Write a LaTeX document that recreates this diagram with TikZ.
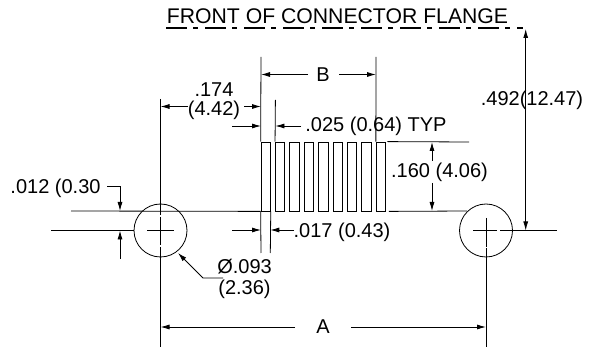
\documentclass[tikz,border=0pt]{standalone}
\usepackage{fontspec}
\setmainfont{Liberation Sans}
\usetikzlibrary{arrows.meta}
\usetikzlibrary{calc}
\begin{document}
\begin{tikzpicture}[
    x=1pt, y=-1pt,
    line width=0.8pt,
    dimLabel/.style={
        inner sep=0pt,
        font=\fontsize{20}{23}\selectfont,
        align=center
    },
    pinBox/.style={
        rectangle, draw,
        inner sep=0pt,
        minimum width=9.3pt,
        minimum height=69pt
    },
    holeCircle/.style={
        circle, draw,
        inner sep=0pt,
        minimum size=53pt
    },
    dimArrow/.style={
        -{Latex[length=9pt,width=5pt]}
    }
]
\useasboundingbox (0,0) rectangle (600,347);
% pins and holes
\foreach \i in {0,...,8} {
    \node[pinBox] (pin\i) at ({265.7+14.4*\i},176.5) {};
}
\node[holeCircle] (holeLeft) at (160.5,230.5) {};
\node[holeCircle] (holeRight) at (486,230.5) {};
% labels
\node[dimLabel, font=\fontsize{21.2}{23}\selectfont] (flangeLabel) at (337.5,16) {FRONT OF CONNECTOR FLANGE};
\node[dimLabel] (labelB) at (323,75) {B};
\node[dimLabel] (labelA) at (323,327) {A};
\node[dimLabel] (labelPitch) at (214,101) {.174\\[-4pt](4.42)};
\node[dimLabel] (labelWidth) at (376,126) {.025 (0.64) TYP};
\node[dimLabel] (labelLength) at (439.5,172) {.160 (4.06)};
\node[dimLabel] (labelHeight) at (532,100) {.492(12.47)};
\node[dimLabel] (labelOffset) at (55.5,188) {.012 (0.30};
\node[dimLabel] (labelGap) at (342,232) {.017 (0.43)};
\node[dimLabel] (labelDia) at (244.5,278.5) {Ø.093\\[-2pt](2.36)};
% flange line
\draw[line width=1.2pt, dash pattern=on 21pt off 6pt on 5pt off 7pt] (166,28) -- (523,28);
% center lines
\draw (160.5,99) -- (160.5,215);
\draw (160.5,217) -- (160.5,245);
\draw (160.5,247) -- (160.5,347);
\draw (147,230.5) -- (174,230.5);
\draw (486,218) -- (486,247);
\draw (486,248) -- (486,347);
\draw (473,230.5) -- (497,230.5);
\draw (500,230.5) -- (557,230.5);
% extension lines
\draw (71,211) -- (pin0.south west);
\draw (pin8.south east) ++(3,0) -- (467,211);
\draw (pin8.north east) ++(1.5,0) -- (469,142);
\draw (51,230.5) -- (holeLeft.west);
\draw (pin0.north west) -- (261,57);
\draw (pin8.north west) -- (376,57);
\draw (pin1.north west) -- (275.4,100);
\draw (pin0.south west) -- (261,253);
\draw (pin0.south east) -- (270.3,253);
% B
\draw[dimArrow] (308,74.5) -- (261,74.5);
\draw[dimArrow] (339,74.5) -- (376,74.5);
% A
\draw[dimArrow] (295,327) -- (160.5,327);
\draw[dimArrow] (351,327) -- (486,327);
% .174
\draw[dimArrow] (188,106.5) -- (160.5,106.5);
\draw[dimArrow] (244,106.5) -- (261,106.5);
% .025
\draw[dimArrow] (232,126) -- (261,126);
\draw[dimArrow] (301,126) -- (275.4,126);
% .160
\draw[dimArrow] (432,161) -- (432,142);
\draw[dimArrow] (432,183) -- (432,211);
% .492
\draw[dimArrow] (525.7,100) -- (525.7,29);
\draw[dimArrow] (525.7,100) -- (525.7,230.5);
% .012
\draw[dimArrow] (107,186) -- (120,186) -- (120,211);
\draw[dimArrow] (120,259) -- (120,230.5);
% .017
\draw[dimArrow] (232,230) -- (261,230);
\draw[dimArrow] (294,230) -- (270.3,230);
% dia
\draw[dimArrow] (223,278) -- (203,278) -- (178,253);
\end{tikzpicture}
\end{document}
